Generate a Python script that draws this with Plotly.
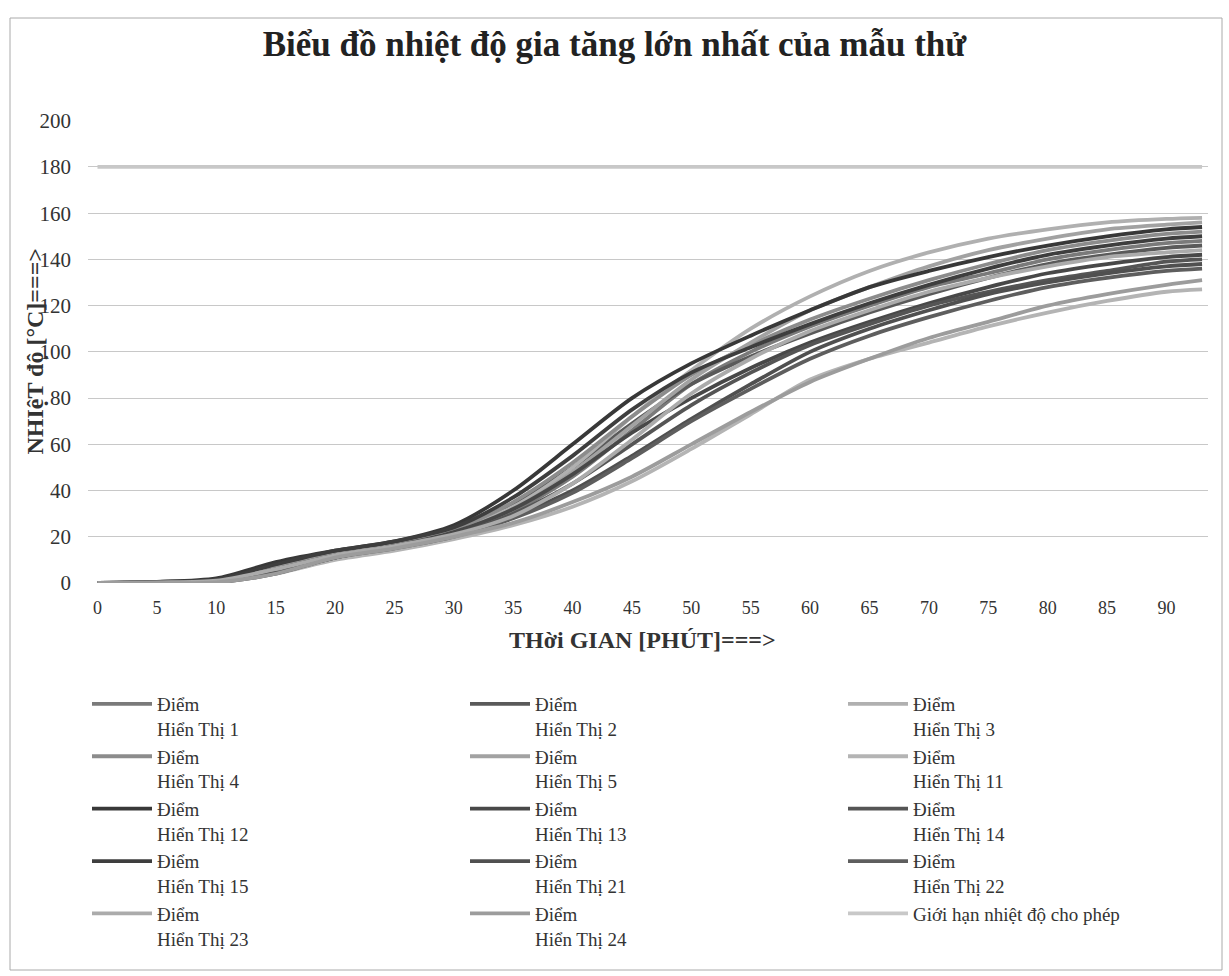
import plotly.graph_objects as go

# Time points (minutes)
time_min = [0, 5, 10, 15, 20, 25, 30, 35, 40, 45, 50, 55, 60, 65, 70, 75, 80, 85, 90, 93]

# Series values (°C)
diem_1 = [0, 0.3, 1, 7, 12, 17, 22, 31, 46, 66, 86, 100, 111, 120, 128, 134, 140, 144, 147, 148]
diem_2 = [0, 0.3, 1, 8, 13, 17, 23, 34, 50, 69, 86, 98, 108, 117, 125, 132, 138, 142, 145, 146]
diem_3 = [0, 0.5, 1.5, 8, 13, 17, 23, 33, 50, 72, 92, 110, 124, 135, 143, 149, 153, 156, 157.5, 158]
diem_4 = [0, 0.3, 1, 8, 13, 17, 23, 35, 52, 72, 90, 103, 114, 123, 131, 138, 144, 148, 151, 152]
diem_5 = [0, 0.3, 1, 7, 13, 17, 22, 32, 48, 68, 88, 104, 118, 128, 137, 144, 149, 153, 155, 156]
diem_11 = [0, 0, 0.3, 4, 10, 14, 19, 25, 33, 44, 58, 73, 88, 97, 104, 111, 117, 122, 126, 127]
diem_12 = [0, 0.5, 2, 9, 14, 18, 25, 40, 60, 80, 95, 107, 118, 128, 135, 141, 146, 150, 153, 154]
diem_13 = [0, 0.2, 0.5, 6, 12, 16, 22, 32, 47, 65, 80, 93, 104, 113, 121, 128, 134, 138, 141, 142]
diem_14 = [0, 0.2, 0.5, 5, 11, 16, 21, 30, 43, 60, 77, 91, 103, 112, 120, 126, 131, 135, 139, 140]
diem_15 = [0, 0.5, 1.5, 8, 14, 18, 24, 37, 55, 75, 91, 102, 112, 121, 129, 136, 142, 146, 149, 150]
diem_21 = [0, 0, 0.3, 5, 11, 16, 21, 29, 40, 55, 71, 86, 100, 110, 118, 125, 130, 134, 137, 138]
diem_22 = [0, 0, 0.3, 4, 11, 15, 20, 28, 39, 54, 70, 84, 97, 107, 115, 122, 128, 132, 135, 136]
diem_23 = [0, 0.3, 1, 6, 12, 16, 21, 29, 43, 62, 82, 97, 109, 118, 126, 132, 137, 141, 143, 144]
diem_24 = [0, 0, 0.3, 4, 11, 15, 20, 26, 35, 46, 60, 74, 87, 97, 106, 113, 120, 125, 129, 131]
gioi_han = [180] * len(time_min)

x_ticks = list(range(0, 95, 5))
y_ticks = list(range(0, 201, 20))

series = [
    ("Điểm<br>Hiển Thị 1", diem_1, "#7a7a7a"),
    ("Điểm<br>Hiển Thị 2", diem_2, "#5a5a5a"),
    ("Điểm<br>Hiển Thị 3", diem_3, "#b0b0b0"),
    ("Điểm<br>Hiển Thị 4", diem_4, "#8c8c8c"),
    ("Điểm<br>Hiển Thị 5", diem_5, "#a2a2a2"),
    ("Điểm<br>Hiển Thị 11", diem_11, "#b4b4b4"),
    ("Điểm<br>Hiển Thị 12", diem_12, "#383838"),
    ("Điểm<br>Hiển Thị 13", diem_13, "#484848"),
    ("Điểm<br>Hiển Thị 14", diem_14, "#555555"),
    ("Điểm<br>Hiển Thị 15", diem_15, "#3e3e3e"),
    ("Điểm<br>Hiển Thị 21", diem_21, "#505050"),
    ("Điểm<br>Hiển Thị 22", diem_22, "#5e5e5e"),
    ("Điểm<br>Hiển Thị 23", diem_23, "#ababab"),
    ("Điểm<br>Hiển Thị 24", diem_24, "#9c9c9c"),
    ("Giới hạn nhiệt độ cho phép", gioi_han, "#c8c8c8"),
]

FONT = "Liberation Serif"
PL, PR, PT, PB = 88, 1208, 120, 583
PW, PH = PR - PL, PB - PT

fig = go.Figure()
for name, vals, color in series:
    fig.add_trace(go.Scatter(
        x=time_min, y=vals, mode="lines", name=name,
        line=dict(color=color, width=3.8, shape="spline", smoothing=0.8),
    ))

fig.update_layout(
    width=1229, height=976,
    margin=dict(l=PL, r=1229 - PR, t=PT, b=976 - PB),
    paper_bgcolor="white", plot_bgcolor="white",
    font=dict(family=FONT, color="#333333"),
    title=dict(text="<b>Biểu đồ nhiệt độ gia tăng lớn nhất của mẫu thử</b>",
               x=0.5, xanchor="center", y=1 - 44 / 976, yanchor="middle",
               font=dict(family=FONT, size=35, color="#222222")),
    showlegend=True,
    legend=dict(orientation="h", x=-1 / PW, xanchor="left",
                y=(PB - 685) / PH, yanchor="top",
                entrywidth=303, entrywidthmode="pixels", itemwidth=60,
                valign="top", font=dict(family=FONT, size=19, color="#333333"),
                tracegroupgap=0, traceorder="normal"),
    xaxis=dict(range=[-0.8, 93.5], tickvals=x_ticks,
               showgrid=False, zeroline=False, showline=False,
               tickfont=dict(family=FONT, size=18, color="#333333"),
               ticklabelstandoff=12),
    yaxis=dict(range=[0, 200.3], tickvals=y_ticks,
               showgrid=True, gridcolor="#c8c8c8", gridwidth=1, zeroline=False,
               showline=False,
               tickfont=dict(family=FONT, size=21, color="#333333"),
               ticklabelstandoff=16),
    annotations=[
        dict(text="<b>NHIệT độ [°C]===></b>", xref="paper", yref="paper",
             x=(34 - PL) / PW, y=0.5, xanchor="center", yanchor="middle",
             textangle=-90, showarrow=False,
             font=dict(family=FONT, size=24, color="#333333")),
        dict(text="<b>THời GIAN [PHÚT]===></b>", xref="paper", yref="paper",
             x=(642 - PL) / PW, y=(PB - 640) / PH, xanchor="center", yanchor="middle",
             showarrow=False, font=dict(family=FONT, size=24, color="#333333")),
    ],
    shapes=[
        dict(type="rect", xref="paper", yref="paper",
             x0=(10 - PL) / PW, x1=(1222 - PL) / PW,
             y0=(PB - 970) / PH, y1=(PB - 18) / PH,
             line=dict(color="#aaaaaa", width=1), fillcolor="rgba(0,0,0,0)",
             layer="below"),
    ],
)

fig.write_html(
    "out.html",
    config={"displayModeBar": False},
    post_script="document.body.style.margin='0';document.body.style.overflow='hidden';",
)
